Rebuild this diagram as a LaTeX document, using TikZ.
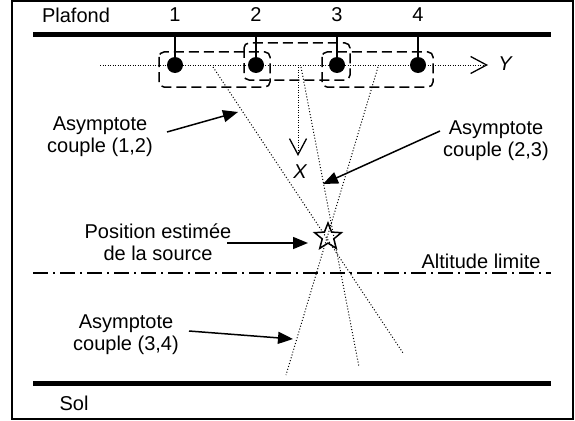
\documentclass[tikz,border=0pt]{standalone}
\usepackage{fontspec}
\setmainfont{Liberation Sans}
\usetikzlibrary{arrows.meta,shapes.geometric}
\begin{document}
\begin{tikzpicture}[x=1pt,y=-1pt,
  lbl/.style={font=\fontsize{20}{22}\selectfont, inner sep=0pt, align=center},
  axlbl/.style={font=\fontsize{20}{22}\selectfont\itshape, inner sep=0pt},
  groundline/.style={line width=5pt},
  sensor/.style={circle, fill=black, minimum size=16pt, inner sep=0pt},
  stem/.style={line width=1.2pt},
  pairbox/.style={line width=1.5pt, dash pattern=on 10pt off 5pt, rounded corners=5pt},
  axisline/.style={line width=1pt, dash pattern=on 1pt off 1.5pt},
  asym/.style={line width=1pt, dash pattern=on 1pt off 2pt},
  openhead/.style={-{Straight Barb[length=16pt,width=17pt,line width=1.3pt]}},
  callout/.style={line width=1.5pt, -{Triangle[length=15pt,width=12pt]}},
  limitline/.style={line width=1.3pt, dash pattern=on 15pt off 5pt on 2pt off 5pt},
  source/.style={star, star points=5, star point ratio=2.3, draw, line width=1.5pt, minimum size=28pt, inner sep=0pt}
]
\useasboundingbox (0,0) rectangle (575,420);
\draw[line width=1.5pt] (12,1) rectangle (573,419);

% ceiling and ground
\coordinate (plA) at (33,35); \coordinate (plB) at (551,35);
\draw[groundline] (plA) -- (plB);
\coordinate (solA) at (33,383); \coordinate (solB) at (551,383);
\draw[groundline] (solA) -- (solB);
\node[lbl] (plafond) at (76,15) {Plafond};
\node[lbl] (sol) at (74,403) {Sol};

% altitude limit
\coordinate (limA) at (33,273); \coordinate (limB) at (551,273);
\draw[limitline] (limA) -- (limB);
\node[lbl] (alt) at (481,261) {Altitude limite};

% Y axis
\coordinate (yS) at (100,65); \coordinate (yE) at (488,65);
\draw[axisline, openhead] (yS) -- (yE);
\node[axlbl] (ylbl) at (505,64) {Y};

% X axis
\coordinate (xS) at (298,67); \coordinate (xE) at (298,156);
\draw[axisline, openhead] (xS) -- (xE);
\node[axlbl] (xlbl) at (300,172) {X};

% asymptotes
\coordinate (a12s) at (213,67); \coordinate (a12e) at (403,353);
\coordinate (a23s) at (301,67); \coordinate (a23e) at (359,367);
\coordinate (a34s) at (378,67); \coordinate (a34e) at (286,375);
\draw[asym] (a12s) -- (a12e);
\draw[asym] (a23s) -- (a23e);
\draw[asym] (a34s) -- (a34e);

% pair boxes
\draw[pairbox] (159,52) rectangle (270,87);
\draw[pairbox] (244,43) rectangle (350,80);
\draw[pairbox] (322,52) rectangle (433,87);

% sensors
\foreach \i/\x in {1/175,2/256,3/337,4/418}{
  \coordinate (p\i) at (\x,35);
  \node[sensor] (s\i) at (\x,65) {};
  \draw[stem] (p\i) -- (s\i);
  \node[lbl] (n\i) at (\x,15) {\i};
}

% source
\node[source] (star) at (328,237) {};

% labels and callouts
\node[lbl] (l12) at (100,137) {Asymptote\\couple (1,2)};
\coordinate (t12s) at (167,132); \coordinate (t12e) at (238,112);
\draw[callout] (t12s) -- (t12e);

\node[lbl] (l23) at (496,141) {Asymptote\\couple (2,3)};
\coordinate (t23s) at (440,131); \coordinate (t23e) at (323,184);
\draw[callout] (t23s) -- (t23e);

\node[lbl] (lsrc) at (158,242) {Position estimée\\de la source};
\coordinate (tsrcs) at (227,243); \coordinate (tsrce) at (308,243);
\draw[callout] (tsrcs) -- (tsrce);

\node[lbl] (l34) at (126,335) {Asymptote\\couple (3,4)};
\coordinate (t34s) at (189,331); \coordinate (t34e) at (293,339);
\draw[callout] (t34s) -- (t34e);
\end{tikzpicture}
\end{document}
